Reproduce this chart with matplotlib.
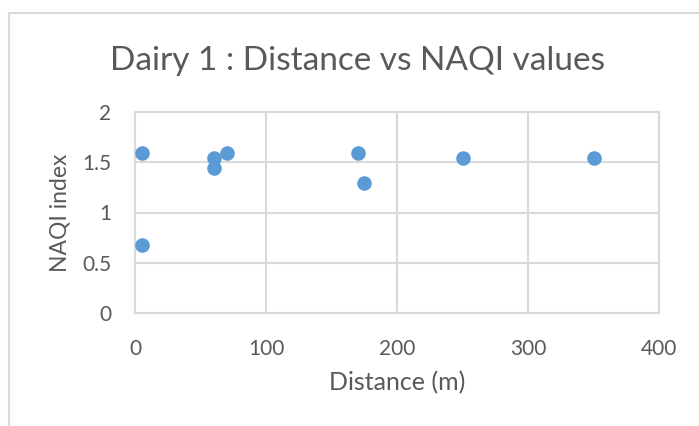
import matplotlib
matplotlib.use("Agg")
import matplotlib.pyplot as plt
from matplotlib.patches import Rectangle

# Dairy 1 readings
distance_m = [5, 5, 60, 60, 70, 170, 175, 250, 350]
naqi_index = [1.59, 0.68, 1.54, 1.44, 1.59, 1.59, 1.29, 1.54, 1.54]

x_ticks = [0, 100, 200, 300, 400]
y_ticks = [0, 0.5, 1, 1.5, 2]
y_tick_labels = ["0", "0.5", "1", "1.5", "2"]

TEXT = "#595959"
GRID = "#d9d9d9"
POINT = "#5b9bd5"

plt.rcParams["font.family"] = ["Lato", "DejaVu Sans"]

W, H = 699, 426
fig = plt.figure(figsize=(W / 100, H / 100), dpi=100)

# chart border (runs off the right/bottom edge like the screenshot)
fig.patches.append(Rectangle((9 / W, -0.05), 1.2, (H - 13) / H + 0.05,
                             transform=fig.transFigure, fill=False,
                             edgecolor="#d9d9d9", linewidth=1.5))

left, right, top, bottom = 135, 659, 112, 313
ax = fig.add_axes([left / W, (H - bottom) / H, (right - left) / W, (bottom - top) / H])
ax.scatter(distance_m, naqi_index, s=110, color=POINT, zorder=3, linewidths=0)

ax.set_xlim(0, 400)
ax.set_ylim(0, 2)
ax.set_xticks(x_ticks)
ax.set_yticks(y_ticks)
ax.set_yticklabels(y_tick_labels)
ax.grid(True, color=GRID, linewidth=1.5)
ax.set_axisbelow(True)
for s in ax.spines.values():
    s.set_color(GRID)
    s.set_linewidth(1.5)
ax.tick_params(length=0, labelsize=15, colors=TEXT)
ax.tick_params(axis="x", pad=19)
ax.tick_params(axis="y", pad=17)

ax.set_xlabel("Distance (m)", fontsize=18, color=TEXT, va="center")
ax.set_ylabel("NAQI index", fontsize=16.5, color=TEXT, va="center")
ax.xaxis.set_label_coords(0.5, (bottom - 383) / (bottom - top))
ax.yaxis.set_label_coords((59.5 - left) / (right - left), 0.5)

fig.text(357 / W, 1 - 61 / H, "Dairy 1 : Distance vs NAQI values",
         ha="center", va="center", fontsize=24, color=TEXT)

fig.savefig("out.png", dpi=100)
